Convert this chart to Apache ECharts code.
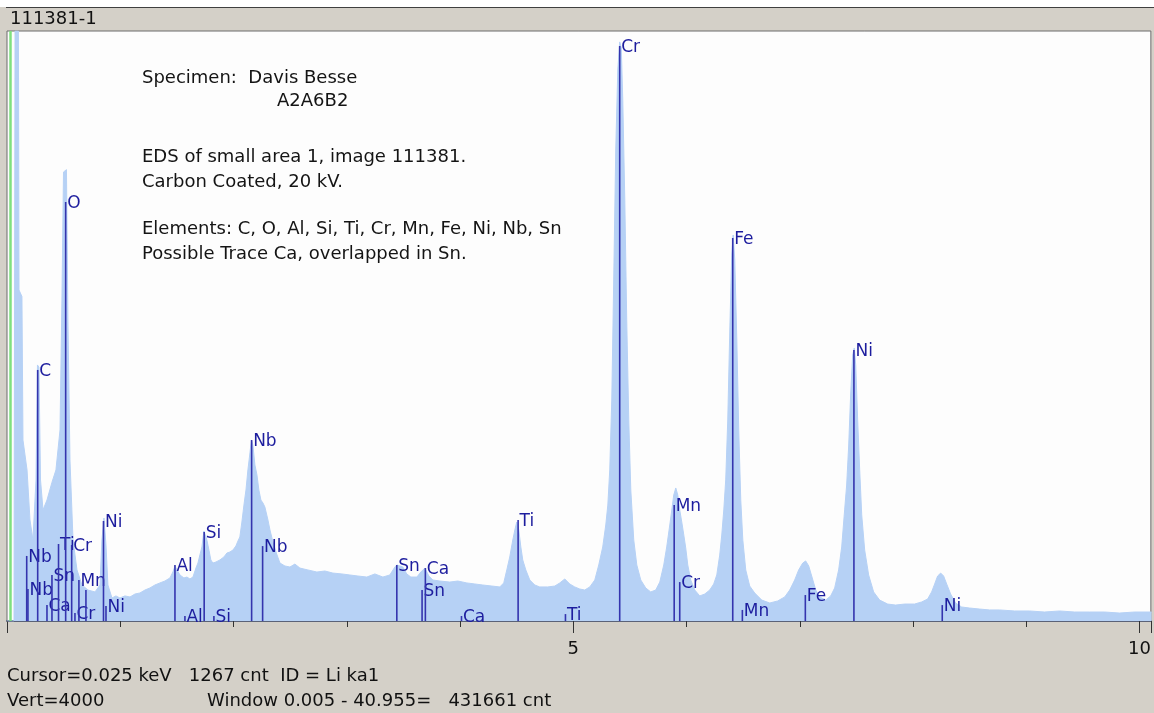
<!DOCTYPE html>
<html>
<head>
<meta charset="utf-8">
<script src="https://cdn.jsdelivr.net/npm/echarts@6/dist/echarts.min.js"></script>
<style>html,body{margin:0;padding:0;background:#fff}#c{width:1154px;height:713px}</style>
</head>
<body>
<div id="c"></div>
<script>
// ---- Spectrum (energy in keV, counts) ----
const energies = [0, 0.062, 0.071, 0.101, 0.106, 0.132, 0.141, 0.177, 0.203, 0.229, 0.256, 0.269, 0.282, 0.296, 0.318, 0.353, 0.397, 0.432, 0.468, 0.485, 0.499, 0.525, 0.538, 0.556, 0.583, 0.618, 0.662, 0.715, 0.777, 0.821, 0.838, 0.856, 0.874, 0.891, 0.927, 0.962, 0.997, 1.041, 1.086, 1.130, 1.174, 1.218, 1.262, 1.306, 1.350, 1.394, 1.439, 1.465, 1.483, 1.501, 1.527, 1.562, 1.589, 1.615, 1.642, 1.668, 1.686, 1.703, 1.721, 1.739, 1.752, 1.765, 1.783, 1.800, 1.818, 1.845, 1.880, 1.915, 1.942, 1.968, 1.995, 2.021, 2.039, 2.056, 2.074, 2.092, 2.110, 2.127, 2.145, 2.158, 2.171, 2.189, 2.207, 2.224, 2.242, 2.260, 2.277, 2.304, 2.322, 2.348, 2.375, 2.410, 2.454, 2.498, 2.542, 2.586, 2.657, 2.736, 2.807, 2.877, 2.957, 3.027, 3.098, 3.177, 3.248, 3.319, 3.380, 3.425, 3.442, 3.469, 3.495, 3.530, 3.566, 3.619, 3.654, 3.689, 3.725, 3.760, 3.822, 3.910, 3.981, 4.060, 4.131, 4.201, 4.281, 4.351, 4.386, 4.413, 4.439, 4.466, 4.484, 4.501, 4.519, 4.537, 4.554, 4.581, 4.616, 4.660, 4.704, 4.775, 4.837, 4.881, 4.925, 4.969, 5.013, 5.057, 5.101, 5.146, 5.190, 5.225, 5.260, 5.287, 5.305, 5.322, 5.340, 5.357, 5.375, 5.393, 5.410, 5.424, 5.437, 5.455, 5.472, 5.490, 5.508, 5.534, 5.561, 5.596, 5.640, 5.684, 5.728, 5.764, 5.799, 5.825, 5.852, 5.870, 5.887, 5.905, 5.923, 5.940, 5.958, 5.976, 5.993, 6.011, 6.037, 6.073, 6.117, 6.161, 6.205, 6.240, 6.267, 6.293, 6.311, 6.329, 6.346, 6.364, 6.382, 6.399, 6.412, 6.426, 6.444, 6.461, 6.479, 6.497, 6.523, 6.558, 6.602, 6.664, 6.735, 6.805, 6.867, 6.911, 6.955, 6.990, 7.026, 7.052, 7.079, 7.105, 7.141, 7.176, 7.229, 7.273, 7.308, 7.343, 7.370, 7.396, 7.414, 7.432, 7.449, 7.467, 7.481, 7.494, 7.511, 7.529, 7.547, 7.573, 7.608, 7.652, 7.705, 7.776, 7.846, 7.926, 8.014, 8.076, 8.129, 8.164, 8.191, 8.217, 8.244, 8.270, 8.297, 8.332, 8.376, 8.429, 8.499, 8.588, 8.676, 8.764, 8.897, 9.029, 9.161, 9.294, 9.426, 9.559, 9.691, 9.823, 9.956, 10.106];
const counts = [0, 0, 4000, 4000, 2244, 2200, 1227, 1024, 685, 549, 956, 1736, 1720, 956, 753, 820, 940, 1024, 1295, 2176, 3044, 3060, 2041, 1092, 549, 346, 244, 210, 197, 244, 549, 698, 515, 244, 156, 170, 156, 170, 163, 183, 190, 210, 224, 244, 258, 271, 292, 332, 373, 346, 312, 292, 298, 285, 298, 359, 393, 447, 502, 610, 617, 549, 481, 414, 393, 400, 414, 434, 461, 468, 481, 509, 542, 570, 671, 786, 888, 1024, 1139, 1227, 1193, 1058, 990, 888, 820, 800, 773, 685, 617, 536, 468, 393, 373, 366, 386, 359, 346, 332, 339, 325, 319, 312, 305, 298, 319, 298, 312, 366, 380, 373, 366, 319, 298, 298, 332, 359, 305, 278, 271, 264, 271, 258, 251, 244, 237, 231, 258, 346, 434, 549, 617, 671, 617, 502, 414, 346, 278, 244, 231, 231, 237, 258, 285, 251, 231, 217, 210, 231, 278, 380, 502, 651, 786, 1024, 1498, 2312, 3193, 3736, 3926, 3885, 3532, 2854, 2041, 1363, 888, 549, 380, 278, 224, 197, 210, 264, 380, 502, 651, 753, 854, 902, 854, 753, 671, 583, 495, 380, 278, 210, 170, 183, 210, 251, 312, 447, 583, 753, 956, 1363, 1973, 2481, 2617, 2448, 1905, 1295, 820, 549, 346, 237, 190, 142, 122, 136, 163, 210, 278, 346, 393, 407, 373, 305, 210, 163, 142, 170, 224, 346, 502, 753, 922, 1193, 1532, 1803, 1851, 1736, 1363, 1024, 719, 481, 312, 197, 142, 115, 108, 115, 115, 129, 149, 197, 251, 305, 325, 305, 251, 183, 122, 95, 88, 81, 75, 75, 68, 68, 61, 68, 61, 61, 61, 54, 61, 61];

// ---- Element marker lines (energy keV, marker height in counts, label) ----
const markerEnergies = [0.174, 0.185, 0.271, 0.353, 0.397, 0.455, 0.518, 0.571, 0.600, 0.635, 0.697, 0.852, 0.874, 1.483, 1.571, 1.741, 1.827, 2.160, 2.257, 3.442, 3.665, 3.694, 4.013, 4.513, 4.931, 5.410, 5.891, 5.940, 6.408, 6.493, 7.049, 7.478, 8.258];
const markerHeights  = [441, 217, 1702, 108, 312, 522, 2841, 515, 54, 278, 210, 678, 102, 380, 34, 603, 34, 1227, 508, 380, 210, 359, 34, 685, 47, 3898, 786, 264, 2597, 75, 176, 1837, 108];
const markerLabels   = ['Nb', 'Nb', 'C', 'Ca', 'Sn', 'Ti', 'O', 'Cr', 'Cr', 'Mn', '', 'Ni', 'Ni', 'Al', 'Al', 'Si', 'Si', 'Nb', 'Nb', 'Sn', 'Sn', 'Ca', 'Ca', 'Ti', 'Ti', 'Cr', 'Mn', 'Cr', 'Fe', 'Mn', 'Fe', 'Ni', 'Ni'];

// ---- Axis ----
const xTickLabels = ['5', '10'];
const cursorKeV = 0.025;
const fullScale = 4000;

// ---- Texts ----
const windowTitle = '111381-1';
const noteLines = [
  'Specimen:  Davis Besse',
  '',
  'EDS of small area 1, image 111381.',
  'Carbon Coated, 20 kV.',
  'Elements: C, O, Al, Si, Ti, Cr, Mn, Fe, Ni, Nb, Sn',
  'Possible Trace Ca, overlapped in Sn.'
];
const specimenId = 'A2A6B2';
const statusLine1 = 'Cursor=0.025 keV   1267 cnt  ID = Li ka1';
const statusLine2a = 'Vert=4000';
const statusLine2b = 'Window 0.005 - 40.955=   431661 cnt';

const FONT = '"DejaVu Sans", Verdana, sans-serif';
const chart = echarts.init(document.getElementById('c'), null, {renderer: 'canvas'});

const spectrum = energies.map((e, i) => [e, counts[i]]);
const markers = markerEnergies.map((e, i) => [e, markerHeights[i], i]);

const noteY = [78, 101, 157, 182, 229, 254];

chart.setOption({
  animation: false,
  backgroundColor: '#d4d0c8',
  grid: {
    left: 7, right: 2, top: 31, bottom: 92,
    show: true, backgroundColor: '#fdfdfd', borderColor: '#6c6c6c', borderWidth: 1
  },
  xAxis: {
    type: 'value', min: 0, max: 10.1, interval: 5,
    axisLine: {show: true, onZero: false, lineStyle: {color: '#5a6278', width: 2}},
    axisTick: {show: true, length: 12, lineStyle: {color: '#333', width: 1}},
    minorTick: {show: true, splitNumber: 5, length: 6, lineStyle: {color: '#333', width: 1}},
    splitLine: {show: false},
    axisLabel: {
      margin: 19, color: '#111', fontFamily: FONT, fontSize: 18,
      formatter: v => (xTickLabels.indexOf(String(v)) >= 0 ? String(v) : '')
    }
  },
  yAxis: {type: 'value', min: 0, max: fullScale, show: false},
  series: [
    {
      type: 'line', data: spectrum, symbol: 'none', z: 1,
      lineStyle: {width: 1, color: '#b6d1f5'},
      areaStyle: {color: '#b6d1f5', opacity: 1},
      markLine: {
        silent: true, symbol: 'none', label: {show: false},
        lineStyle: {color: '#7fe07f', width: 2.5, type: 'solid'},
        data: [{xAxis: cursorKeV}]
      }
    },
    {
      type: 'custom', z: 3, clip: false,
      data: markers,
      renderItem: function (params, api) {
        const x = api.value(0), h = api.value(1);
        const p0 = api.coord([x, 0]);
        const p1 = api.coord([x, h]);
        const lbl = markerLabels[params.dataIndex];
        return {
          type: 'group',
          children: [
            {type: 'line', shape: {x1: p0[0], y1: p0[1], x2: p1[0], y2: p1[1]},
             style: {stroke: '#3434ae', lineWidth: 1.6}},
            {type: 'text', x: p1[0] + 1.5, y: p1[1] + 2,
             style: {text: lbl, fill: '#1d1d9e', font: '17px ' + FONT, verticalAlign: 'middle', align: 'left'}}
          ]
        };
      }
    }
  ],
  graphic: [
    {type: 'rect', shape: {x: 0, y: 0, width: 1154, height: 7}, style: {fill: '#ffffff'}, silent: true},
    {type: 'line', shape: {x1: 6, y1: 7.5, x2: 1154, y2: 7.5}, style: {stroke: '#404040', lineWidth: 1}, silent: true},
    {type: 'text', x: 10, y: 19, style: {text: windowTitle, fill: '#111', font: '18px ' + FONT, verticalAlign: 'middle'}, silent: true},
    ...noteLines.map((t, i) => ({
      type: 'text', x: 142, y: noteY[i],
      style: {text: t, fill: '#141414', font: '18px ' + FONT, verticalAlign: 'middle'}, silent: true
    })),
    {type: 'text', x: 277, y: noteY[1], style: {text: specimenId, fill: '#141414', font: '18px ' + FONT, verticalAlign: 'middle'}, silent: true},
    {type: 'text', x: 7, y: 676, style: {text: statusLine1, fill: '#111', font: '18px ' + FONT, verticalAlign: 'middle'}, silent: true},
    {type: 'text', x: 7, y: 701, style: {text: statusLine2a, fill: '#111', font: '18px ' + FONT, verticalAlign: 'middle'}, silent: true},
    {type: 'text', x: 207, y: 701, style: {text: statusLine2b, fill: '#111', font: '18px ' + FONT, verticalAlign: 'middle'}, silent: true}
  ]
});
</script>
</body>
</html>
